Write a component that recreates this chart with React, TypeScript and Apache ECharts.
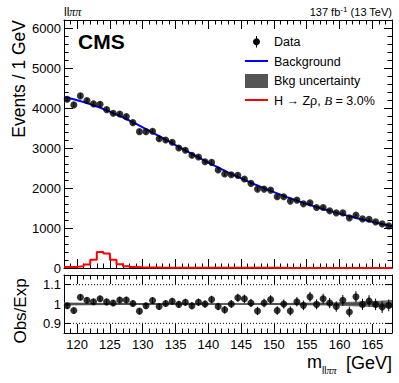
import React, { useEffect, useRef } from "react";
import * as echarts from "echarts";

const FONT = "Liberation Sans, Arial, Helvetica, sans-serif";
const SERIF = "Liberation Serif, Times New Roman, serif";

const massMin = 118;
const massMax = 168;
const majorXTicks = [120, 125, 130, 135, 140, 145, 150, 155, 160, 165];
const ratioTicks = [0.9, 1, 1.1];

// bin centres (1 GeV bins from 118 to 168)
const binCenters = Array.from({ length: 50 }, (_, i) => massMin + 0.5 + i);

// observed events per bin
const dataCounts = [
  4220, 4078, 4303, 4186, 4103, 4095, 3960, 3870, 3852, 3785,
  3634, 3409, 3409, 3418, 3233, 3200, 3143, 3000, 2942, 2817,
  2774, 2657, 2641, 2449, 2348, 2330, 2316, 2223, 2115, 1972,
  1972, 1947, 1780, 1780, 1672, 1697, 1604, 1629, 1514, 1514,
  1429, 1378, 1378, 1253, 1321, 1228, 1220, 1153, 1103, 1053,
];

// background fit curve sampled at integer masses 118..168
const bkgMass = Array.from({ length: 51 }, (_, i) => massMin + i);
const bkgValues = [
  4274, 4236, 4195, 4148, 4096, 4038, 3976, 3909, 3838, 3763,
  3684, 3603, 3518, 3431, 3343, 3253, 3163, 3073, 2984, 2895,
  2808, 2721, 2636, 2553, 2472, 2393, 2316, 2241, 2168, 2097,
  2028, 1961, 1896, 1833, 1772, 1713, 1656, 1601, 1548, 1497,
  1449, 1404, 1359, 1316, 1273, 1232, 1193, 1154, 1116, 1079, 1042,
];

// expected background per bin (bin centres)
const bkgPerBin = [
  4255, 4217, 4173, 4123, 4068, 4008, 3943, 3874, 3801, 3724,
  3644, 3561, 3475, 3387, 3298, 3208, 3118, 3028, 2939, 2851,
  2764, 2678, 2594, 2512, 2432, 2354, 2278, 2204, 2132, 2062,
  1994, 1928, 1864, 1802, 1742, 1684, 1628, 1574, 1522, 1472,
  1426, 1381, 1337, 1294, 1252, 1212, 1173, 1135, 1097, 1060,
];

// signal H -> Z rho, B = 3.0 % (per bin, lower edges 118..167)
const signalValues = [
  22, 28, 45, 90, 205, 400, 362, 208, 93, 45,
  25, 18, 14, 12, 10, 9, 8, 8, 7, 7,
  6, 6, 6, 5, 5, 5, 5, 4, 4, 4,
  4, 4, 4, 3, 3, 3, 3, 3, 3, 3,
  3, 3, 3, 3, 2, 2, 2, 2, 2, 2,
];

// Obs/Exp ratio per bin
const ratioValues = [
  0.991, 0.966, 1.035, 1.019, 1.012, 1.027, 1.011, 1.005, 1.021, 1.021,
  1.003, 0.963, 0.991, 1.018, 0.987, 1.003, 1.014, 0.998, 1.009, 0.991,
  1.009, 1.0, 1.023, 0.987, 0.97, 1.0, 1.032, 1.027, 1.005, 0.964,
  1.005, 1.023, 0.966, 1.0, 0.964, 1.012, 0.993, 1.037, 0.998, 1.027,
  1.005, 0.987, 1.019, 0.959, 1.037, 0.998, 1.016, 0.998, 0.984, 0.993,
];

// relative background uncertainty (half width) in the ratio panel
const bandMass = [118, 122, 126, 130, 134, 138, 142, 146, 150, 154, 158, 162, 166, 168];
const bandHalf = [0.008, 0.006, 0.005, 0.005, 0.004, 0.004, 0.004, 0.004, 0.005, 0.006, 0.008, 0.011, 0.017, 0.021];

function xAxesFor(grid: number, showLabels: boolean) {
  const base = {
    type: "value",
    gridIndex: grid,
    min: massMin,
    max: massMax,
    splitLine: { show: false },
  };
  const minor = (position: string) => ({
    ...base,
    position,
    interval: 1,
    axisLine: { show: true, onZero: false, lineStyle: { color: "#000", width: 1 } },
    axisTick: { show: true, inside: true, length: 4.5, lineStyle: { color: "#000", width: 1 } },
    axisLabel: { show: false },
  });
  const major = (position: string, labels: boolean) => ({
    ...base,
    position,
    axisLine: { show: false, onZero: false },
    axisTick: { show: true, inside: true, length: 9, customValues: majorXTicks, lineStyle: { color: "#000", width: 1 } },
    axisLabel: labels
      ? { show: true, customValues: majorXTicks, margin: 5, fontSize: 13, color: "#000", fontFamily: FONT }
      : { show: false },
  });
  return [minor("bottom"), major("bottom", showLabels), minor("top"), major("top", false)];
}

export default function App() {
  const ref = useRef<HTMLDivElement>(null);

  useEffect(() => {
    const chart = echarts.init(ref.current!, null, { renderer: "svg" });

    const dataPts = binCenters.map((m, i) => [m, dataCounts[i]]);
    const dataErr = binCenters.map((m, i) => {
      const e = Math.sqrt(dataCounts[i]);
      return [m, dataCounts[i] - e, dataCounts[i] + e];
    });
    const ratioPts = binCenters.map((m, i) => [m, ratioValues[i]]);
    const ratioErr = binCenters.map((m, i) => {
      const e = Math.sqrt(dataCounts[i]) / bkgPerBin[i];
      return [m, ratioValues[i] - e, ratioValues[i] + e];
    });
    const bkgLine = bkgMass.map((m, i) => [m, bkgValues[i]]);
    const sigLine = signalValues.map((v, i) => [massMin + i, v]);
    sigLine.push([massMax, signalValues[signalValues.length - 1]]);

    const errRender = (params: any, api: any) => {
      const x = api.value(0);
      const p1 = api.coord([x, api.value(1)]);
      const p2 = api.coord([x, api.value(2)]);
      return {
        type: "line",
        shape: { x1: p1[0], y1: p1[1], x2: p2[0], y2: p2[1] },
        style: { stroke: "#000", lineWidth: 1 },
      };
    };

    const yLabel = { fontSize: 13, color: "#000", fontFamily: FONT, margin: 3 };

    const option: any = {
      animation: false,
      backgroundColor: "#fff",
      grid: [
        { left: 64, width: 328, top: 20, height: 248, outerBoundsMode: "none" },
        { left: 64, width: 328, top: 275, height: 58, outerBoundsMode: "none" },
      ],
      xAxis: [...xAxesFor(0, false), ...xAxesFor(1, true)],
      yAxis: [
        {
          type: "value", gridIndex: 0, position: "left", min: 0, max: 6200, interval: 1000,
          axisLine: { show: true, onZero: false, lineStyle: { color: "#000" } },
          axisTick: { show: true, inside: true, length: 9, lineStyle: { color: "#000" } },
          minorTick: { show: true, splitNumber: 5, length: 4.5, lineStyle: { color: "#000" } },
          axisLabel: { ...yLabel, formatter: (v: number) => String(v) },
          splitLine: { show: false },
        },
        {
          type: "value", gridIndex: 0, position: "right", min: 0, max: 6200, interval: 1000,
          axisLine: { show: true, onZero: false, lineStyle: { color: "#000" } },
          axisTick: { show: true, inside: true, length: 8, lineStyle: { color: "#000" } },
          minorTick: { show: true, splitNumber: 5, length: 4.5, lineStyle: { color: "#000" } },
          axisLabel: { show: false },
          splitLine: { show: false },
        },
        {
          type: "value", gridIndex: 1, position: "left", min: 0.85, max: 1.15,
          axisLine: { show: true, onZero: false, lineStyle: { color: "#000" } },
          axisTick: { show: true, inside: true, length: 7, customValues: ratioTicks, lineStyle: { color: "#000" } },
          axisLabel: {
            ...yLabel,
            customValues: ratioTicks,
            formatter: (v: number) => (Math.abs(v - 1) < 1e-6 ? "1" : v.toFixed(1)),
          },
          splitLine: { show: false },
        },
        {
          type: "value", gridIndex: 1, position: "right", min: 0.85, max: 1.15,
          axisLine: { show: true, onZero: false, lineStyle: { color: "#000" } },
          axisTick: { show: true, inside: true, length: 7, customValues: ratioTicks, lineStyle: { color: "#000" } },
          axisLabel: { show: false },
          splitLine: { show: false },
        },
      ],
      series: [
        {
          type: "line", name: "signal", xAxisIndex: 0, yAxisIndex: 0, data: sigLine, step: "end",
          showSymbol: false, lineStyle: { color: "#ff0000", width: 2 }, z: 2,
        },
        {
          type: "line", name: "bkg", xAxisIndex: 0, yAxisIndex: 0, data: bkgLine, smooth: true,
          showSymbol: false, lineStyle: { color: "#0000ff", width: 2 }, z: 3,
        },
        {
          type: "custom", xAxisIndex: 0, yAxisIndex: 0, data: dataErr, renderItem: errRender,
          encode: { x: 0, y: [1, 2] }, z: 4,
        },
        {
          type: "scatter", xAxisIndex: 0, yAxisIndex: 0, data: dataPts, symbol: "circle", symbolSize: 7,
          itemStyle: { color: "#000" }, z: 5,
        },
        {
          type: "custom", xAxisIndex: 4, yAxisIndex: 2, data: [[massMin, 1]], z: 2,
          encode: { x: 0, y: 1 },
          renderItem: (params: any, api: any) => {
            const pts: number[][] = [];
            bandMass.forEach((m, i) => pts.push(api.coord([m, 1 + bandHalf[i]])));
            for (let i = bandMass.length - 1; i >= 0; i--) pts.push(api.coord([bandMass[i], 1 - bandHalf[i]]));
            return { type: "polygon", shape: { points: pts }, style: { fill: "#6e6e6e" } };
          },
        },
        {
          type: "line", xAxisIndex: 4, yAxisIndex: 2, data: [[massMin, 1], [massMax, 1]], showSymbol: false,
          lineStyle: { color: "#333", width: 1 }, z: 3,
        },
        {
          type: "line", xAxisIndex: 4, yAxisIndex: 2, data: [[massMin, 1.1], [massMax, 1.1]], showSymbol: false,
          lineStyle: { color: "#000", width: 1, type: [1, 2] }, z: 1,
        },
        {
          type: "line", xAxisIndex: 4, yAxisIndex: 2, data: [[massMin, 0.9], [massMax, 0.9]], showSymbol: false,
          lineStyle: { color: "#000", width: 1, type: [1, 2] }, z: 1,
        },
        {
          type: "custom", xAxisIndex: 4, yAxisIndex: 2, data: ratioErr, renderItem: errRender,
          encode: { x: 0, y: [1, 2] }, z: 4,
        },
        {
          type: "scatter", xAxisIndex: 4, yAxisIndex: 2, data: ratioPts, symbol: "circle", symbolSize: 7,
          itemStyle: { color: "#000" }, z: 5,
        },
      ],
      graphic: [
        // top labels
        {
          type: "text", x: 64, y: 18, z: 10,
          style: {
            text: "{a|ll}{b|ππ}",
            verticalAlign: "bottom",
            rich: {
              a: { fontSize: 12, fontFamily: FONT, fill: "#000" },
              b: { fontSize: 12, fontFamily: SERIF, fontStyle: "italic", fill: "#000" },
            },
          },
        },
        {
          type: "text", x: 392, y: 18, z: 10,
          style: {
            text: "{a|137 fb}{s|-1}{a| (13 TeV)}",
            align: "right",
            verticalAlign: "bottom",
            rich: {
              a: { fontSize: 11, fontFamily: FONT, fill: "#000", lineHeight: 13 },
              s: { fontSize: 8, fontFamily: FONT, fill: "#000", verticalAlign: "top", lineHeight: 13 },
            },
          },
        },
        {
          type: "text", x: 78, y: 41, z: 10,
          style: { text: "CMS", fontSize: 21, fontWeight: "bold", fontFamily: FONT, fill: "#000", verticalAlign: "middle" },
        },
        // axis titles
        {
          type: "text", x: 18.5, y: 20, rotation: Math.PI / 2, z: 10,
          style: { text: "Events / 1 GeV", fontSize: 17.5, fontFamily: FONT, fill: "#000", align: "right", verticalAlign: "middle" },
        },
        {
          type: "text", x: 20, y: 311, rotation: Math.PI / 2, z: 10,
          style: { text: "Obs/Exp", fontSize: 17, fontFamily: FONT, fill: "#000", align: "center", verticalAlign: "middle" },
        },
        {
          type: "text", x: 392, y: 372, z: 10,
          style: { text: "[GeV]", fontSize: 18, fontFamily: FONT, fill: "#000", align: "right", verticalAlign: "bottom" },
        },
        {
          type: "text", x: 322, y: 375, z: 10,
          style: {
            text: "{a|ll}{b|ππ}", align: "left", verticalAlign: "bottom",
            rich: {
              a: { fontSize: 10, fontFamily: FONT, fill: "#000" },
              b: { fontSize: 10, fontFamily: SERIF, fontStyle: "italic", fill: "#000" },
            },
          },
        },
        {
          type: "text", x: 307, y: 371, z: 10,
          style: { text: "m", fontSize: 18, fontFamily: FONT, fill: "#000", align: "left", verticalAlign: "bottom" },
        },
        // legend
        {
          type: "line", z: 10, shape: { x1: 256.5, y1: 36, x2: 256.5, y2: 47.5 },
          style: { stroke: "#000", lineWidth: 1 },
        },
        { type: "circle", z: 11, shape: { cx: 256.5, cy: 41.7, r: 3.5 }, style: { fill: "#000" } },
        {
          type: "text", x: 274, y: 42, z: 10,
          style: { text: "Data", fontSize: 12.5, fontFamily: FONT, fill: "#000", verticalAlign: "middle" },
        },
        {
          type: "line", z: 10, shape: { x1: 245, y1: 61, x2: 268, y2: 61 },
          style: { stroke: "#0000ff", lineWidth: 2 },
        },
        {
          type: "text", x: 274, y: 61.5, z: 10,
          style: { text: "Background", fontSize: 12.5, fontFamily: FONT, fill: "#000", verticalAlign: "middle" },
        },
        { type: "rect", z: 10, shape: { x: 245, y: 74, width: 23, height: 14 }, style: { fill: "#555" } },
        {
          type: "text", x: 274, y: 81, z: 10,
          style: { text: "Bkg uncertainty", fontSize: 12.5, fontFamily: FONT, fill: "#000", verticalAlign: "middle" },
        },
        {
          type: "line", z: 10, shape: { x1: 245, y1: 100, x2: 268, y2: 100 },
          style: { stroke: "#ff0000", lineWidth: 2 },
        },
        {
          type: "text", x: 274, y: 100.5, z: 10,
          style: {
            text: "{a|H → Zρ, }{b|B}{a| = 3.0%}",
            verticalAlign: "middle",
            rich: {
              a: { fontSize: 12.5, fontFamily: FONT, fill: "#000" },
              b: { fontSize: 13, fontFamily: SERIF, fontStyle: "italic", fill: "#000" },
            },
          },
        },
      ],
    };

    chart.setOption(option);
    return () => chart.dispose();
  }, []);

  return (
    <div
      ref={ref}
      style={{ position: "fixed", left: 0, top: 0, width: 399, height: 383, background: "#fff" }}
    />
  );
}
